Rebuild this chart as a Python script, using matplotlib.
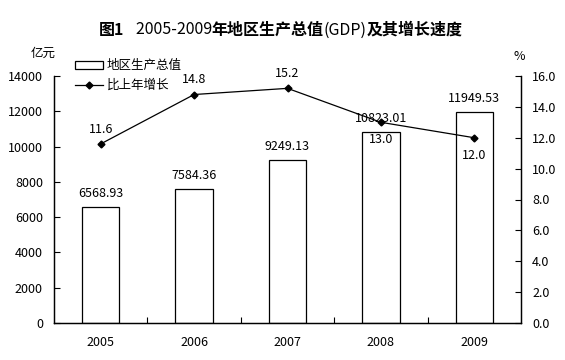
import matplotlib
matplotlib.use("Agg")
import matplotlib.pyplot as plt
from matplotlib.patches import Patch
from matplotlib.lines import Line2D
from matplotlib.offsetbox import TextArea, HPacker, AnchoredOffsetbox

plt.rcParams["font.family"] = ["Noto Sans CJK SC", "DejaVu Sans"]

years = ["2005", "2006", "2007", "2008", "2009"]
gdp = [6568.93, 7584.36, 9249.13, 10823.01, 11949.53]
growth = [11.6, 14.8, 15.2, 13.0, 12.0]
gdp_labels = ["6568.93", "7584.36", "9249.13", "10823.01", "11949.53"]
growth_below = [False, False, False, True, True]

fig = plt.figure(figsize=(5.65, 3.6), dpi=100)
ax = fig.add_axes([54 / 565, 1 - 323 / 360, (521 - 54) / 565, (323 - 76) / 360])
ax2 = ax.twinx()

x = list(range(len(years)))
ax.bar(x, gdp, width=0.40, facecolor="white", edgecolor="black", linewidth=0.9)
for xi, v, lab in zip(x, gdp, gdp_labels):
    ax.annotate(lab, (xi, v), xytext=(0, 5), textcoords="offset points",
                ha="center", va="bottom", fontsize=9)

ax.set_xlim(-0.5, len(years) - 0.5)
ax.set_ylim(0, 14000)
ax.set_yticks(range(0, 14001, 2000))
ax.set_xticks([i + 0.5 for i in range(len(years) - 1)])
ax.set_xticklabels([])
ax.set_xticks(x, minor=True)
ax.set_xticklabels(years, minor=True, fontsize=9)
ax.tick_params(axis="x", which="major", direction="in", length=4, width=0.8)
ax.tick_params(axis="x", which="minor", length=0, pad=9)
ax.tick_params(axis="y", direction="in", length=4, width=0.8, labelsize=9, pad=8)

ax2.plot(x, growth, color="black", linewidth=0.9, marker="D", markersize=3.5)
for xi, v, below in zip(x, growth, growth_below):
    if below:
        ax2.annotate(f"{v:.1f}", (xi, v), xytext=(0, -8), textcoords="offset points",
                     ha="center", va="top", fontsize=9)
    else:
        ax2.annotate(f"{v:.1f}", (xi, v), xytext=(0, 6), textcoords="offset points",
                     ha="center", va="bottom", fontsize=9)
ax2.set_ylim(0, 16)
ax2.set_yticks(range(0, 17, 2))
ax2.set_yticklabels([f"{t:.1f}" for t in range(0, 17, 2)])
ax2.tick_params(axis="y", direction="in", length=4, width=0.8, labelsize=9, pad=8)

for a in (ax, ax2):
    a.spines["top"].set_visible(False)
    for s in ("left", "right", "bottom"):
        a.spines[s].set_linewidth(0.9)

# units
fig.text(56 / 565, 1 - 53 / 360, "亿元", ha="right", va="center", fontsize=9)
fig.text(519 / 565, 1 - 56 / 360, "%", ha="center", va="center", fontsize=9)

# legend
handles = [Patch(facecolor="white", edgecolor="black", linewidth=0.9),
           Line2D([0], [0], color="black", linewidth=0.9, marker="D", markersize=3.5)]
fig.legend(handles, ["地区生产总值", "比上年增长"], loc="upper left",
           bbox_to_anchor=(69 / 565, 1 - 53 / 360), frameon=False, fontsize=9,
           handlelength=2.2, handleheight=0.6, handletextpad=0.3, labelspacing=0.55,
           borderpad=0)

# title with mixed weights
parts = [("图1", "bold"), ("   2005-2009", "normal"), ("年地区生产总值", "bold"),
         ("(GDP)", "normal"), ("及其增长速度", "bold")]
boxes = [TextArea(s, textprops=dict(fontsize=11.5, fontweight=w)) for s, w in parts]
title = AnchoredOffsetbox(loc="center", child=HPacker(children=boxes, sep=0, align="baseline"),
                          bbox_to_anchor=(281 / 565, 1 - 30 / 360),
                          bbox_transform=fig.transFigure, frameon=False, pad=0, borderpad=0)
fig.add_artist(title)

fig.savefig("out.png", dpi=100)
